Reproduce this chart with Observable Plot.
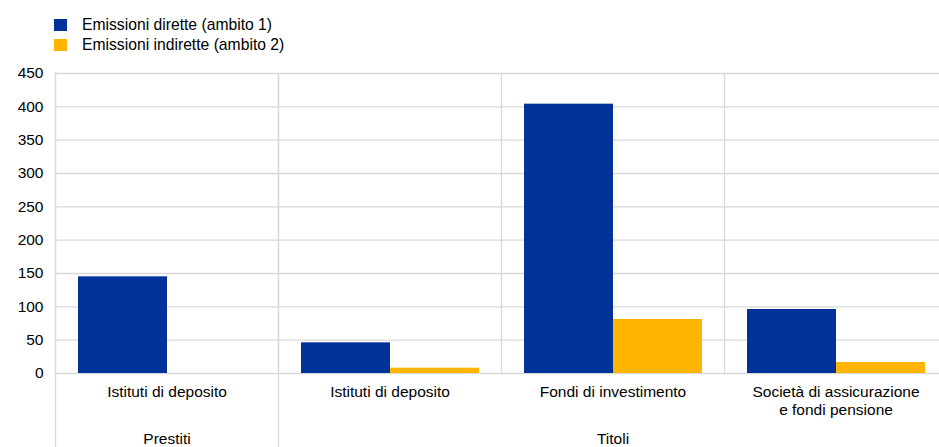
<!DOCTYPE html>
<html>
<head>
<meta charset="utf-8">
<script src="https://cdn.jsdelivr.net/npm/d3@7"></script>
<script src="https://cdn.jsdelivr.net/npm/@observablehq/plot@0.6"></script>
<style>
  html, body { margin: 0; padding: 0; background: #fff; width: 939px; height: 447px; overflow: hidden; }
  body { font-family: "Liberation Sans", Arial, sans-serif; color: #000; }
  .legend { position: absolute; left: 54px; top: 15px; font-size: 15.7px; line-height: 20px; }
  .legend div { display: flex; align-items: center; height: 20px; }
  .legend span.sw { display: inline-block; width: 13px; height: 12px; margin-right: 15px; }
  #chart { position: absolute; left: 0; top: 55px; width: 948px; }
  #chart svg { max-width: none !important; }
</style>
</head>
<body>
<div class="legend" id="legend"></div>
<div id="chart"></div>
<script>
// ---- data ----
const categoryKeys = ["prestiti-istituti", "titoli-istituti", "titoli-fondi", "titoli-assicurazioni"];
const categoryLabels = ["Istituti di deposito", "Istituti di deposito", "Fondi di investimento", "Società di assicurazione\ne fondi pensione"];
const groupLabels = ["Prestiti", "Titoli"];
const groupAnchorKeys = ["prestiti-istituti", "titoli-fondi"];
const seriesNames = ["Emissioni dirette (ambito 1)", "Emissioni indirette (ambito 2)"];
const seriesColors = ["#003299", "#ffb400"];
const direct = [145, 46, 404, 96];
const indirect = [0, 8, 81, 16.5];
const yTicks = [0, 50, 100, 150, 200, 250, 300, 350, 400, 450];

// legend
const legend = document.getElementById("legend");
seriesNames.forEach((s, i) => {
  const row = document.createElement("div");
  const sw = document.createElement("span");
  sw.className = "sw";
  sw.style.background = seriesColors[i];
  row.appendChild(sw);
  row.appendChild(document.createTextNode(s));
  legend.appendChild(row);
});

const bars = [];
categoryKeys.forEach((k, i) => {
  bars.push({cat: k, series: seriesNames[0], value: direct[i]});
  bars.push({cat: k, series: seriesNames[1], value: indirect[i]});
});
const cats = categoryKeys.map((k, i) => ({cat: k, label: categoryLabels[i]}));
const groups = groupLabels.map((g, i) => ({cat: groupAnchorKeys[i], label: g}));
const grid = "#d9d9d9";

const chart = Plot.plot({
  width: 948,
  height: 392,
  marginLeft: 54,
  marginRight: 0,
  marginTop: 18,
  marginBottom: 74,
  style: {fontFamily: "Liberation Sans, Arial, sans-serif", fontSize: "15.5px", color: "#000", background: "white", maxWidth: "none"},
  fx: {domain: categoryKeys, padding: 0, axis: null},
  x: {domain: seriesNames, paddingInner: 0, paddingOuter: 0.25, axis: null},
  y: {domain: [0, 450], axis: null},
  color: {domain: seriesNames, range: seriesColors},
  marks: [
    Plot.gridY(yTicks, {stroke: grid, strokeOpacity: 1, strokeWidth: 1.3}),
    Plot.frame({anchor: "left", stroke: grid, strokeOpacity: 1, strokeWidth: 1.3}),
    Plot.frame({anchor: "left", stroke: grid, strokeOpacity: 1, strokeWidth: 1.3, insetBottom: -80, fx: () => categoryKeys[0]}),
    Plot.frame({anchor: "left", stroke: grid, strokeOpacity: 1, strokeWidth: 1.3, insetBottom: -80, fx: () => categoryKeys[1]}),
    Plot.barY(bars, {fx: "cat", x: "series", y: "value", fill: "series"}),
    Plot.axisY(yTicks, {facetAnchor: "left", tickSize: 0, tickPadding: 12, label: null, fontSize: 15.5}),
    Plot.text(cats, {fx: "cat", text: "label", frameAnchor: "bottom", lineAnchor: "top", dy: 10.5, lineHeight: 1.18, fontSize: 15.5}),
    Plot.text(groups, {fx: "cat", text: "label", frameAnchor: "bottom", lineAnchor: "top", dy: 59, fontSize: 15.5})
  ]
});
document.getElementById("chart").appendChild(chart);
</script>
</body>
</html>
